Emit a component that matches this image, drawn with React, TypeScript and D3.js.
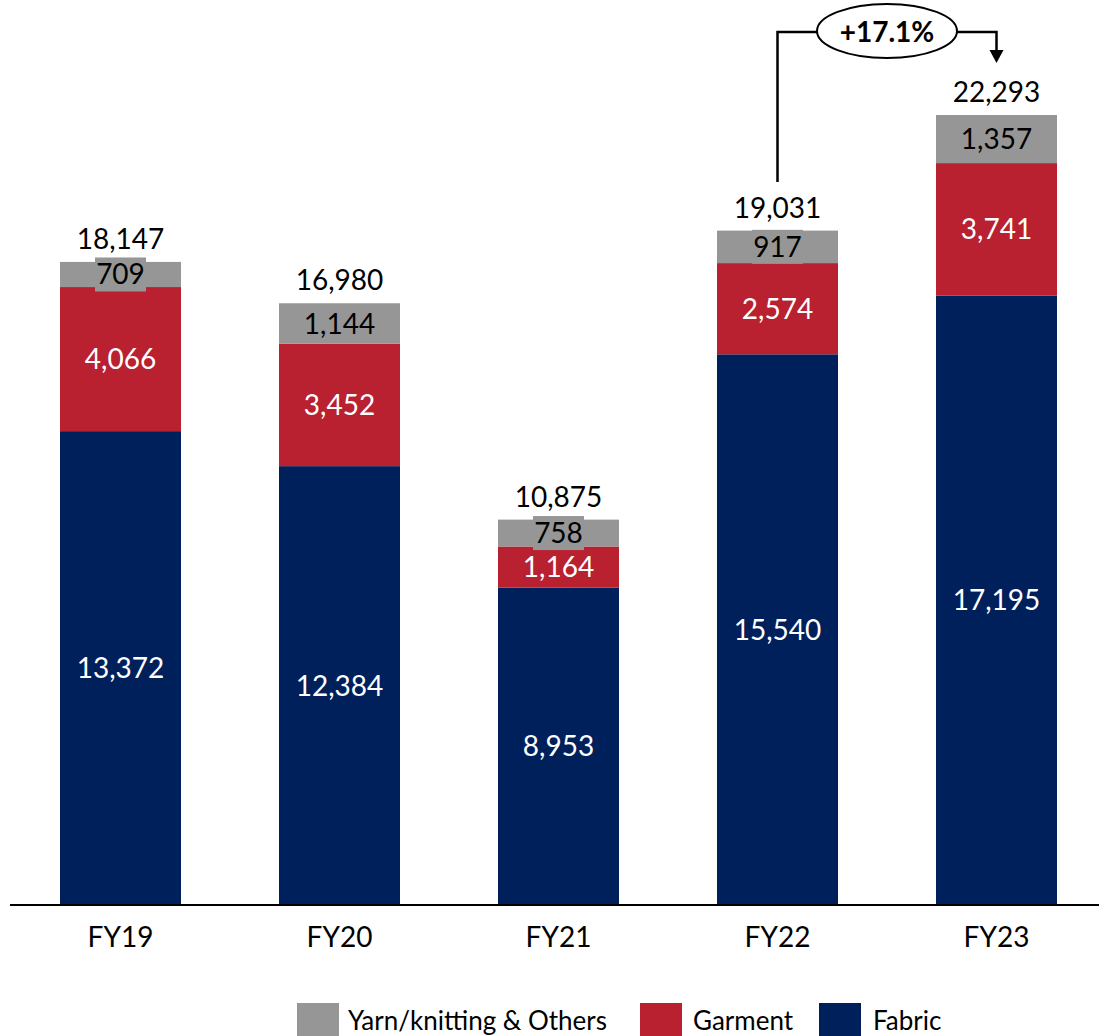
import React from "react";
import * as d3 from "d3";

const categories = ["FY19", "FY20", "FY21", "FY22", "FY23"];
const fabric = [13372, 12384, 8953, 15540, 17195];
const garment = [4066, 3452, 1164, 2574, 3741];
const yarn = [709, 1144, 758, 917, 1357];
const totals = [18147, 16980, 10875, 19031, 22293];
const growthLabel = "+17.1%";
const seriesNames = ["Yarn/knitting & Others", "Garment", "Fabric"];

const W = 1099;
const H = 1036;
const FONT = "Lato, 'Open Sans', sans-serif";
const colors = { fabric: "#00205B", garment: "#B92030", yarn: "#969696" };

export default function App() {
  const x = d3
    .scaleBand<string>()
    .domain(categories)
    .range([11, 1106])
    .paddingInner(0.4475)
    .paddingOuter(0.22375);
  const y = d3.scaleLinear().domain([0, 22293]).range([905, 115]);
  const fmt = d3.format(",");
  const bw = x.bandwidth();

  const segs: { key: string; vals: number[]; color: string; text: string }[] = [
    { key: "fabric", vals: fabric, color: colors.fabric, text: "#fff" },
    { key: "garment", vals: garment, color: colors.garment, text: "#fff" },
    { key: "yarn", vals: yarn, color: colors.yarn, text: "#000" },
  ];

  const c22 = (x("FY22") as number) + bw / 2;
  const c23 = (x("FY23") as number) + bw / 2;
  const lineY = 32;
  const ellCx = 887;
  const ellRx = 70;
  const ellRy = 27;

  const legend = [
    { name: seriesNames[0], color: colors.yarn, x: 297, tx: 348 },
    { name: seriesNames[1], color: colors.garment, x: 640, tx: 693 },
    { name: seriesNames[2], color: colors.fabric, x: 819, tx: 873 },
  ];

  return (
    <svg width={W} height={H} style={{ position: "absolute", left: 0, top: 0 }} fontFamily={FONT}>
      <rect width={W} height={H} fill="#fff" />
      {categories.map((c, i) => {
        const x0 = x(c) as number;
        let cum = 0;
        const items = segs.map((s) => {
          const v = s.vals[i];
          const yTop = y(cum + v);
          const yBot = y(cum);
          cum += v;
          return { s, v, yTop, yBot };
        });
        return (
          <g key={c}>
            {items.map(({ s, yTop, yBot }) => (
              <rect key={s.key} x={x0} y={yTop} width={bw} height={yBot - yTop} fill={s.color} />
            ))}
            {items.map(({ s, v, yTop, yBot }) => {
              const cy = (yTop + yBot) / 2;
              const txt = fmt(v);
              const tw = txt.length * 15 + 6;
              const small = yBot - yTop < 34;
              return (
                <g key={s.key + "l"}>
                  {small && (
                    <rect x={x0 + bw / 2 - tw / 2} y={cy - 17} width={tw} height={34} fill={s.color} />
                  )}
                  <text
                    x={x0 + bw / 2}
                    y={cy + 10}
                    textAnchor="middle"
                    fontSize={28}
                    fill={s.text}
                  >
                    {txt}
                  </text>
                </g>
              );
            })}
            <text x={x0 + bw / 2} y={y(totals[i]) - 13} textAnchor="middle" fontSize={28} fill="#000">
              {fmt(totals[i])}
            </text>
            <text x={x0 + bw / 2} y={947} textAnchor="middle" fontSize={28} fill="#000">
              {c}
            </text>
          </g>
        );
      })}
      <line x1={10} x2={1099} y1={905} y2={905} stroke="#000" strokeWidth={2} />

      {/* growth annotation */}
      <polyline
        points={`${c22},182 ${c22},${lineY} ${ellCx - ellRx},${lineY}`}
        fill="none"
        stroke="#000"
        strokeWidth={2.5}
      />
      <polyline
        points={`${ellCx + ellRx},${lineY} ${c23},${lineY} ${c23},52`}
        fill="none"
        stroke="#000"
        strokeWidth={2.5}
      />
      <path d={`M${c23 - 7},50 L${c23 + 7},50 L${c23},63 Z`} fill="#000" />
      <ellipse cx={ellCx} cy={31} rx={ellRx} ry={ellRy} fill="#fff" stroke="#000" strokeWidth={2} />
      <text x={ellCx} y={42} textAnchor="middle" fontSize={28} fontWeight="bold" fill="#000">
        {growthLabel}
      </text>

      {/* legend */}
      {legend.map((l) => (
        <g key={l.name}>
          <rect x={l.x} y={1003} width={42} height={33} fill={l.color} />
          <text x={l.tx} y={1030} fontSize={26} fill="#000">
            {l.name}
          </text>
        </g>
      ))}
    </svg>
  );
}
